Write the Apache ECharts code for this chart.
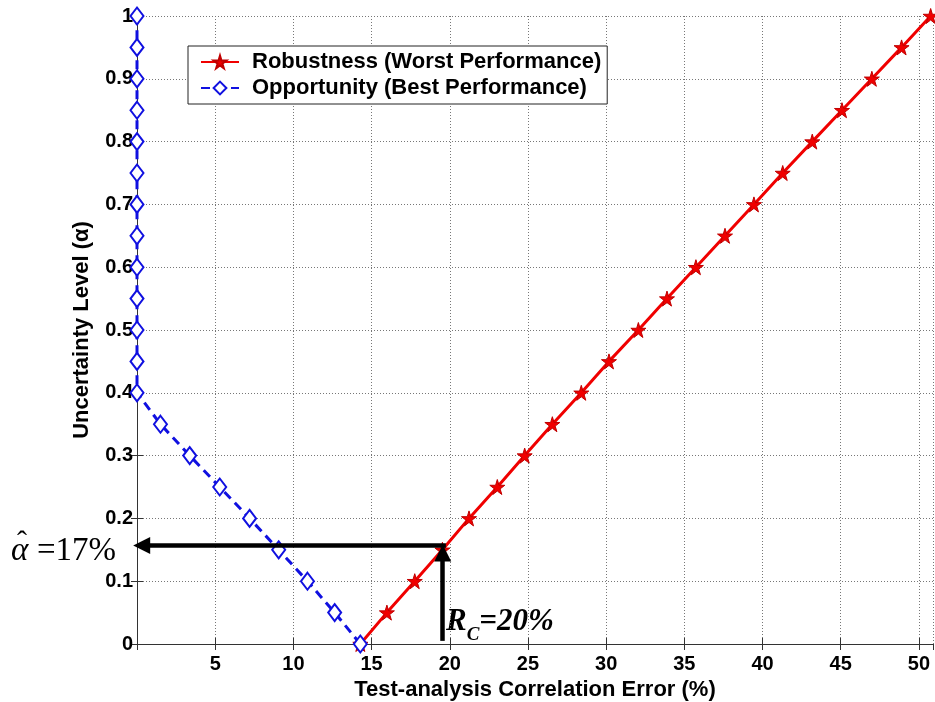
<!DOCTYPE html>
<html>
<head>
<meta charset="utf-8">
<script src="https://cdn.jsdelivr.net/npm/echarts@6/dist/echarts.min.js"></script>
<style>
html, body { margin: 0; padding: 0; background: #fff; }
#chart { width: 935px; height: 702px; }
</style>
</head>
<body>
<div id="chart"></div>
<script>
// data
var levels = [0, 0.05, 0.1, 0.15, 0.2, 0.25, 0.3, 0.35, 0.4, 0.45, 0.5,
              0.55, 0.6, 0.65, 0.7, 0.75, 0.8, 0.85, 0.9, 0.95, 1];
var robustX = [14.28, 15.98, 17.76, 19.53, 21.23, 23.04, 24.79, 26.56, 28.41, 30.18, 32.06,
               33.89, 35.74, 37.6, 39.45, 41.29, 43.18, 45.08, 46.99, 48.89, 50.75];
var opportX = [14.28, 12.64, 10.9, 9.06, 7.2, 5.29, 3.37, 1.5, 0, 0, 0,
               0, 0, 0, 0, 0, 0, 0, 0, 0, 0];
var alphaHat = 0.157;   // horizontal arrow level
var rcValue = 19.55;    // vertical arrow position
var xMax = 50.9;

var robustData = robustX.map(function (x, i) { return [x, levels[i]]; });
var opportData = opportX.map(function (x, i) { return [x, levels[i]]; });

var starPath = 'path://M50,0 L61,35 L98,35 L68,57 L79,91 L50,70 L21,91 L32,57 L2,35 L39,35 Z';
var tickFont = { color: '#000', fontFamily: 'Liberation Sans, Arial', fontWeight: 'bold', fontSize: 20 };
var titleFont = { color: '#000', fontFamily: 'Liberation Sans, Arial', fontWeight: 'bold', fontSize: 22 };
var serif = 'Liberation Serif, Times New Roman, serif';

var option = {
    animation: false,
    backgroundColor: '#fff',
    grid: { left: 137, right: 2, top: 16, bottom: 58, outerBoundsMode: 'none', containLabel: false },
    legend: {
        left: 188,
        top: 46,
        orient: 'vertical',
        backgroundColor: '#fff',
        borderColor: '#222',
        borderWidth: 1,
        borderRadius: 0,
        padding: [5, 6, 5, 12],
        itemGap: 4,
        itemWidth: 38,
        itemHeight: 16,
        textStyle: {
            color: '#000', fontFamily: 'Liberation Sans, Arial', fontWeight: 'bold',
            fontSize: 22, lineHeight: 22, padding: [0, 0, 0, 8]
        },
        data: ['Robustness (Worst Performance)', 'Opportunity (Best Performance)']
    },
    xAxis: [
        {
            type: 'value',
            min: 0,
            max: xMax,
            interval: 5,
            position: 'bottom',
            name: 'Test-analysis Correlation Error (%)',
            nameLocation: 'middle',
            nameGap: 34,
            nameTextStyle: titleFont,
            axisLine: { show: true, lineStyle: { color: '#333', width: 1 } },
            axisTick: { show: true, inside: true, length: 6, lineStyle: { color: '#333' } },
            axisLabel: Object.assign({ margin: 10, showMinLabel: false, showMaxLabel: false }, tickFont),
            splitLine: { show: true, lineStyle: { color: '#777', type: [1, 2], width: 1 } }
        },
        {
            type: 'value',
            min: 0,
            max: xMax,
            interval: 5,
            position: 'top',
            axisLine: { show: true, lineStyle: { color: '#333', width: 1 } },
            axisTick: { show: true, inside: true, length: 6, lineStyle: { color: '#333' } },
            axisLabel: { show: false },
            splitLine: { show: false }
        }
    ],
    yAxis: [
        {
            type: 'value',
            min: 0,
            max: 1,
            interval: 0.1,
            position: 'left',
            name: 'Uncertainty Level (α)',
            nameLocation: 'middle',
            nameGap: 44,
            nameTextStyle: titleFont,
            axisLine: { show: true, lineStyle: { color: '#333', width: 1 } },
            axisTick: { show: true, inside: true, length: 6, lineStyle: { color: '#333' } },
            axisLabel: Object.assign({ margin: 4 }, tickFont),
            splitLine: { show: true, lineStyle: { color: '#777', type: [1, 2], width: 1 } }
        },
        {
            type: 'value',
            min: 0,
            max: 1,
            interval: 0.1,
            position: 'right',
            axisLine: { show: true, lineStyle: { color: '#333', width: 1 } },
            axisTick: { show: true, inside: true, length: 6, lineStyle: { color: '#333' } },
            axisLabel: { show: false },
            splitLine: { show: false }
        }
    ],
    series: [
        {
            name: 'Robustness (Worst Performance)',
            type: 'line',
            data: robustData,
            symbol: starPath,
            symbolSize: 15,
            color: '#f00000',
            lineStyle: { color: '#f00000', width: 3 },
            itemStyle: { color: '#f00000', borderColor: '#c00000', borderWidth: 1 }
        },
        {
            name: 'Opportunity (Best Performance)',
            type: 'line',
            data: opportData,
            symbol: 'emptyDiamond',
            symbolSize: [13, 17],
            color: '#1010e0',
            lineStyle: { color: '#1010e0', width: 3, type: [9, 6] },
            itemStyle: { color: '#1010e0', borderColor: '#1010e0', borderWidth: 3 },
            markLine: {
                silent: true,
                symbol: ['none', 'triangle'],
                symbolSize: 17,
                label: { show: false },
                lineStyle: { color: '#000', width: 4.5, type: 'solid' },
                data: [
                    [{ coord: [rcValue + 0.2, alphaHat] }, { coord: [0.3, alphaHat] }],
                    [{ coord: [rcValue, 0.005] }, { coord: [rcValue, alphaHat - 0.012] }]
                ]
            }
        }
    ],
    graphic: [
        {
            type: 'text',
            left: 11,
            top: 535,
            style: { text: 'α', font: 'italic 33px ' + serif, fill: '#000' }
        },
        {
            type: 'text',
            left: 17,
            top: 528,
            style: { text: '\u02C6', font: '30px ' + serif, fill: '#000' }
        },
        {
            type: 'text',
            left: 37,
            top: 535,
            style: { text: '=17%', font: '33px ' + serif, fill: '#000' }
        },
        {
            type: 'text',
            left: 446,
            top: 606,
            style: {
                text: '{r|R}{c|C}{r|=20%}',
                rich: {
                    r: { fontFamily: serif, fontStyle: 'italic', fontWeight: 'bold', fontSize: 31, fill: '#000' },
                    c: { fontFamily: serif, fontStyle: 'italic', fontWeight: 'bold', fontSize: 19, fill: '#000', verticalAlign: 'bottom', padding: [0, 0, -8, 0] }
                }
            }
        }
    ]
};

var chart = echarts.init(document.getElementById('chart'));
chart.setOption(option);
</script>
</body>
</html>
